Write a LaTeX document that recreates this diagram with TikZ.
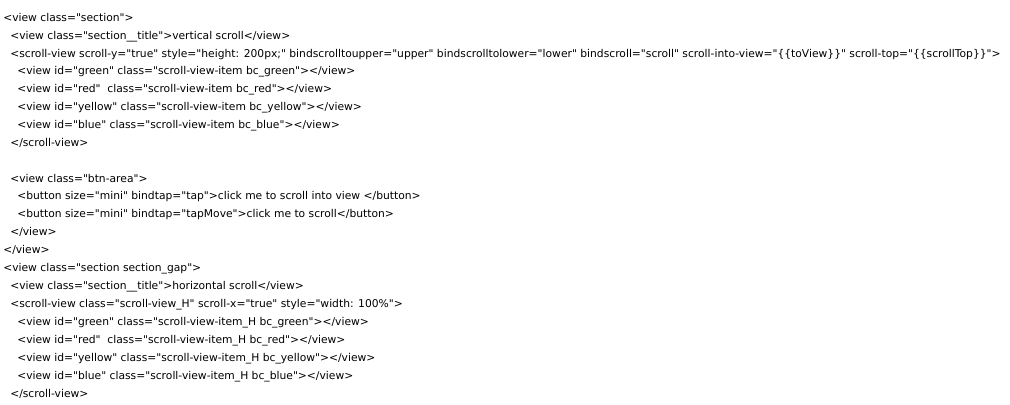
\documentclass[tikz,border=0pt]{standalone}
\usepackage{fontspec}
\setmainfont{DejaVu Sans}[Ligatures=TeXOff]
\begin{document}
\begin{tikzpicture}[x=0.75pt, y=-0.75pt,
  code/.style={anchor=base west, inner sep=0pt, font=\fontsize{8.05pt}{10pt}\selectfont}]
  % Khung
  \useasboundingbox (0,0) rectangle (1010,404);

  % Phần cuộn dọc
  \node[code] (sec) at (3,21) {<view class="section">};
  \node[code] (sectitle) at (10,39) {<view class="section\_\_title">vertical scroll</view>};
  \node[code] (scrolly) at (10,57) {<scroll-view scroll-y="true" style="height: 200px;" bindscrolltoupper="upper" bindscrolltolower="lower" bindscroll="scroll" scroll-into-view="\{\{toView\}\}" scroll-top="\{\{scrollTop\}\}">};
  \node[code] (green) at (17,74.5) {<view id="green" class="scroll-view-item bc\_green"></view>};
  \node[code] (red) at (17,92.5) {<view id="red"\ \ class="scroll-view-item bc\_red"></view>};
  \node[code] (yellow) at (17,110.5) {<view id="yellow" class="scroll-view-item bc\_yellow"></view>};
  \node[code] (blue) at (17,128.5) {<view id="blue" class="scroll-view-item bc\_blue"></view>};
  \node[code] (scrollyend) at (10,146) {</scroll-view>};

  % Nút bấm
  \node[code] (btnarea) at (10,182) {<view class="btn-area">};
  \node[code] (btntap) at (17,199.5) {<button size="mini" bindtap="tap">click me to scroll into view </button>};
  \node[code] (btnmove) at (17,217.5) {<button size="mini" bindtap="tapMove">click me to scroll</button>};
  \node[code] (btnend) at (10,235) {</view>};
  \node[code] (secend) at (3,253) {</view>};

  % Phần cuộn ngang
  \node[code] (secgap) at (3,271) {<view class="section section\_gap">};
  \node[code] (sectitleH) at (10,289.5) {<view class="section\_\_title">horizontal scroll</view>};
  \node[code] (scrollx) at (10,307) {<scroll-view class="scroll-view\_H" scroll-x="true" style="width: 100\%">};
  \node[code] (greenH) at (17,325) {<view id="green" class="scroll-view-item\_H bc\_green"></view>};
  \node[code] (redH) at (17,343) {<view id="red"\ \ class="scroll-view-item\_H bc\_red"></view>};
  \node[code] (yellowH) at (17,361) {<view id="yellow" class="scroll-view-item\_H bc\_yellow"></view>};
  \node[code] (blueH) at (17,379) {<view id="blue" class="scroll-view-item\_H bc\_blue"></view>};
  \node[code] (scrollxend) at (10,397) {</scroll-view>};
\end{tikzpicture}
\end{document}
